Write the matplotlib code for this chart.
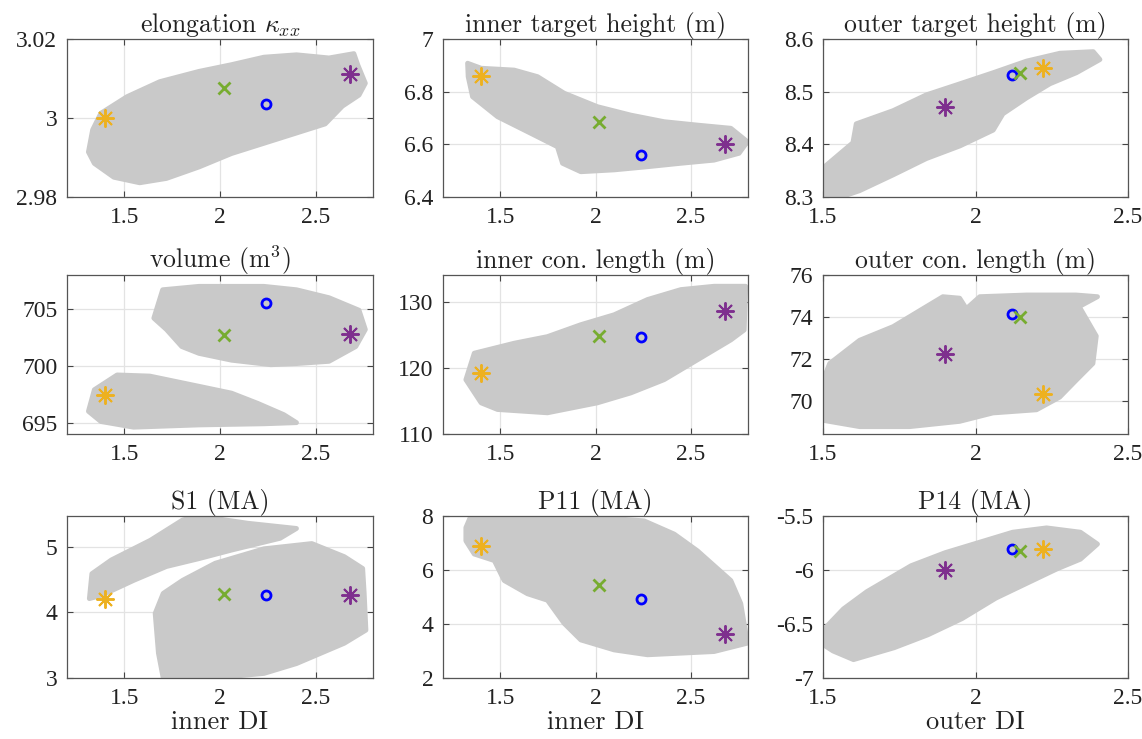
import numpy as np
import matplotlib
matplotlib.use('Agg')
from matplotlib import pyplot as plt

plt.rcParams['mathtext.fontset'] = 'cm'

# design points: orange, green, blue, purple
inner_di = [1.40, 2.02, 2.24, 2.68]
outer_di = [2.22, 2.145, 2.12, 1.90]

elong = [3.0, 3.0075, 3.0036, 3.0112]
in_height = [6.86, 6.685, 6.56, 6.60]
out_height = [8.545, 8.535, 8.532, 8.471]
volume = [697.4, 702.7, 705.5, 702.8]
in_conn = [119.2, 124.8, 124.6, 128.5]
out_conn = [70.36, 74.0, 74.17, 72.24]
s1 = [4.20, 4.28, 4.26, 4.26]
p11 = [6.90, 5.45, 4.92, 3.63]
p14 = [-5.81, -5.82, -5.81, -6.0]

# outlines of the sampled clouds (DI, value)
elong_cloud = [[1.312, 1.334, 1.377, 1.514, 1.685, 1.89, 2.06, 2.23, 2.40, 2.57, 2.70, 2.72, 2.76, 2.727, 2.64, 2.55,
                2.40, 2.23, 2.06, 1.89, 1.72, 1.58, 1.445, 1.343],
               [2.9914, 2.997, 3.0012, 3.0054, 3.0092, 3.0118, 3.0135, 3.0154, 3.016, 3.0152, 3.0163, 3.0135, 3.0088,
                3.0058, 3.003, 2.9985, 2.9962, 2.9936, 2.991, 2.9876, 2.9847, 2.9836, 2.985, 2.9885]]
in_height_cloud = [[1.329, 1.40, 1.573, 1.696, 1.836, 2.01, 2.185, 2.36, 2.535, 2.71, 2.797, 2.753, 2.622, 2.447, 2.273,
                    2.098, 1.923, 1.827, 1.80, 1.66, 1.486, 1.355, 1.332],
                   [6.908, 6.889, 6.882, 6.857, 6.794, 6.743, 6.711, 6.686, 6.673, 6.661, 6.61, 6.566, 6.54, 6.528, 6.515,
                    6.503, 6.496, 6.528, 6.591, 6.642, 6.705, 6.781, 6.857]]
out_height_cloud = [[1.505, 1.50, 1.598, 1.609, 1.73, 1.839, 1.949, 2.058, 2.167, 2.277, 2.386, 2.408, 2.331, 2.244, 2.167,
                     2.09, 2.058, 1.949, 1.839, 1.73, 1.62, 1.544],
                    [8.30, 8.355, 8.403, 8.439, 8.464, 8.494, 8.515, 8.536, 8.558, 8.573, 8.576, 8.561, 8.536, 8.515,
                     8.488, 8.458, 8.427, 8.397, 8.373, 8.342, 8.312, 8.297]]
volume_cloud_a = [[1.654, 1.70, 1.89, 2.23, 2.40, 2.57, 2.727, 2.76, 2.71, 2.57, 2.40, 2.266, 2.06, 1.89, 1.80, 1.72],
                  [704.2, 706.7, 707.0, 707.0, 706.7, 706.0, 704.9, 703.2, 701.7, 700.4, 700.2, 700.1, 700.5, 701.1,
                   701.7, 703.2]]
volume_cloud_b = [[1.312, 1.343, 1.462, 1.633, 1.89, 2.06, 2.197, 2.334, 2.40, 2.23, 1.89, 1.548, 1.377],
                  [696.0, 697.9, 699.2, 699.1, 698.2, 697.6, 696.7, 695.7, 695.0, 694.9, 694.8, 694.6, 695.1]]
in_conn_cloud = [[1.32, 1.364, 1.573, 1.748, 1.923, 2.098, 2.273, 2.448, 2.622, 2.788, 2.78, 2.71, 2.535, 2.36, 2.185,
                  2.01, 1.748, 1.486, 1.40],
                 [118.2, 122.2, 123.7, 124.7, 126.5, 128.0, 130.3, 131.8, 132.3, 132.3, 125.7, 124.2, 121.2, 118.2,
                  116.2, 114.7, 113.2, 113.7, 114.7]]
out_conn_cloud = [[1.50, 1.50, 1.522, 1.62, 1.73, 1.839, 1.893, 1.948, 1.97, 2.014, 2.167, 2.33, 2.40, 2.34, 2.396,
                   2.385, 2.33, 2.276, 2.20, 2.057, 1.948, 1.784, 1.62],
                  [69.1, 71.0, 71.8, 72.9, 73.55, 74.5, 74.97, 74.9, 74.4, 74.97, 75.05, 75.05, 74.97, 74.5, 73.1,
                   71.8, 71.0, 70.2, 69.6, 69.45, 69.05, 68.8, 68.8]]
s1_cloud_a = [[1.317, 1.33, 1.432, 1.636, 1.805, 1.89, 2.144, 2.40, 2.314, 2.06, 1.89, 1.72, 1.55, 1.38],
              [4.21, 4.59, 4.80, 5.10, 5.41, 5.47, 5.36, 5.28, 5.13, 4.95, 4.82, 4.70, 4.49, 4.26]]
s1_cloud_b = [[1.661, 1.703, 1.805, 1.975, 2.23, 2.48, 2.65, 2.746, 2.754, 2.763, 2.65, 2.40, 2.23, 1.975, 1.703, 1.678],
              [3.985, 4.29, 4.49, 4.75, 4.97, 5.05, 4.85, 4.67, 4.29, 3.73, 3.53, 3.22, 3.07, 3.0, 3.0, 3.38]]
p11_cloud = [[1.32, 1.346, 1.923, 2.255, 2.413, 2.535, 2.71, 2.762, 2.797, 2.622, 2.448, 2.273, 2.098, 1.923, 1.836,
              1.748, 1.643, 1.521, 1.469, 1.364, 1.32],
             [7.57, 8.0, 8.0, 7.82, 7.33, 6.71, 5.61, 4.76, 3.29, 2.98, 2.92, 2.86, 3.04, 3.41, 4.02, 4.88, 5.12,
              5.61, 6.35, 6.59, 7.08]]
p14_cloud = [[1.50, 1.506, 1.567, 1.644, 1.789, 1.90, 2.011, 2.122, 2.233, 2.344, 2.40, 2.344, 2.267, 2.178, 2.067,
              1.956, 1.844, 1.733, 1.60, 1.533],
             [-6.69, -6.54, -6.36, -6.20, -5.96, -5.84, -5.745, -5.65, -5.61, -5.65, -5.76, -5.90, -5.99, -6.11,
              -6.26, -6.45, -6.60, -6.72, -6.83, -6.75]]

titles = ['elongation $\\kappa_{xx}$', 'inner target height (m)', 'outer target height (m)',
          'volume (m$^3$)', 'inner con. length (m)', 'outer con. length (m)',
          'S1 (MA)', 'P11 (MA)', 'P14 (MA)']
yticks = [[2.98, 3, 3.02], [6.4, 6.6, 6.8, 7], [8.3, 8.4, 8.5, 8.6],
          [695, 700, 705], [110, 120, 130], [70, 72, 74, 76],
          [3, 4, 5], [2, 4, 6, 8], [-7, -6.5, -6, -5.5]]
ylims = [(2.98, 3.02), (6.4, 7.0), (8.3, 8.6),
         (694, 708), (110, 134), (68.45, 76),
         (3, 5.47), (2, 8), (-7, -5.5)]
values = [elong, in_height, out_height, volume, in_conn, out_conn, s1, p11, p14]
clouds = [[elong_cloud], [in_height_cloud], [out_height_cloud],
          [volume_cloud_a, volume_cloud_b], [in_conn_cloud], [out_conn_cloud],
          [s1_cloud_a, s1_cloud_b], [p11_cloud], [p14_cloud]]

gray = '#c9c9c9'
colors = ['#EDB120', '#77AC30', '#0000FF', '#7E2F8E']

fig = plt.figure(figsize=(11.42, 7.39), dpi=100)
W, H = 1142., 739.
lefts = [67, 443, 823]
rights = [373, 748, 1128]
tops = [39, 275, 516]
bottoms = [197, 434, 678]

for k in range(9):
    r, c = k // 3, k % 3
    ax = fig.add_axes([lefts[c] / W, 1 - bottoms[r] / H, (rights[c] - lefts[c]) / W, (bottoms[r] - tops[r]) / H])
    outer = (c == 2)
    xs = outer_di if outer else inner_di

    for cl in clouds[k]:
        ax.fill(cl[0], cl[1], color=gray, ec=gray, lw=3.5, joinstyle='round', zorder=1)

    v = values[k]
    # orange, blue, green, purple
    ax.plot(xs[0], v[0], ls='none', marker=(8, 2, 0), ms=13, mew=1.4, color=colors[0], zorder=3)
    ax.plot(xs[2], v[2], ls='none', marker='o', ms=6.5, mew=2, mfc='none', color=colors[2], zorder=3)
    ax.plot(xs[1], v[1], ls='none', marker='x', ms=8, mew=2, color=colors[1], zorder=3)
    ax.plot(xs[3], v[3], ls='none', marker=(8, 2, 0), ms=13, mew=1.4, color=colors[3], zorder=3)

    if outer:
        ax.set_xlim(1.5, 2.5)
    else:
        ax.set_xlim(1.2, 2.8)
    ax.set_xticks([1.5, 2, 2.5])
    ax.set_xticklabels(['1.5', '2', '2.5'])
    ax.set_ylim(*ylims[k])
    ax.set_yticks(yticks[k])
    ax.set_yticklabels(['%g' % t for t in yticks[k]])

    ax.set_axisbelow(True)
    ax.grid(True, color='#e3e3e3', lw=0.9)
    ax.tick_params(direction='in', top=True, right=True, length=4, width=0.8, color='#444444',
                   labelsize=17, pad=7)
    for lab in ax.get_xticklabels() + ax.get_yticklabels():
        lab.set_fontfamily('Liberation Serif')
        lab.set_color('#222222')
    for sp in ax.spines.values():
        sp.set_color('#555555')
        sp.set_linewidth(0.9)

    ax.set_title(titles[k], fontfamily='cmr10', fontsize=18.5, pad=5, color='#222222')
    if r == 2:
        ax.set_xlabel('outer DI' if outer else 'inner DI', fontfamily='cmr10', fontsize=19,
                      labelpad=1, color='#222222')

plt.savefig('out.png', dpi=100)
